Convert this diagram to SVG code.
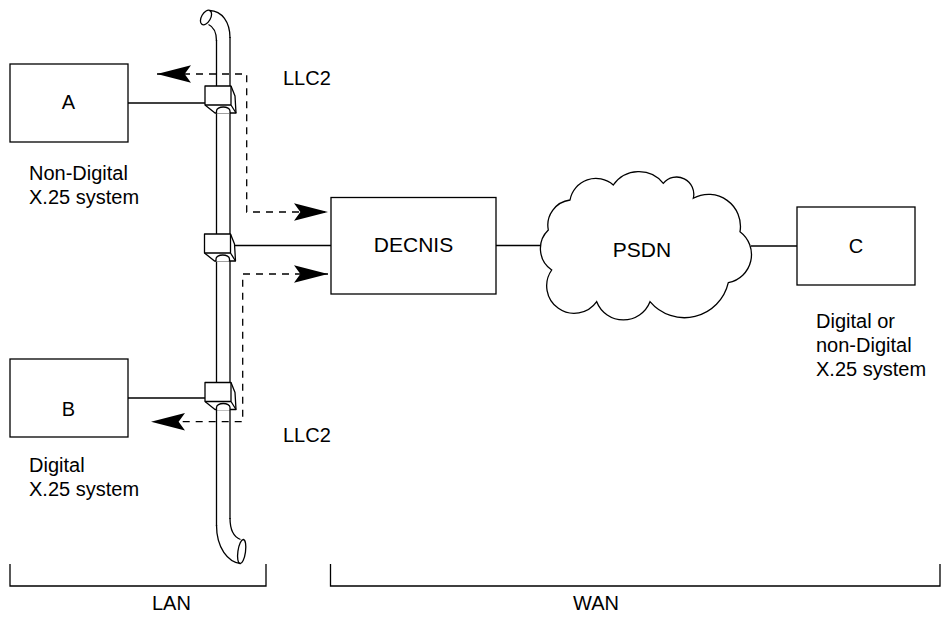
<svg xmlns="http://www.w3.org/2000/svg" width="946" height="621" viewBox="0 0 946 621">
<style>
  .ln{fill:none;stroke:#000;stroke-width:1.3}
  .box{fill:#fff;stroke:#000;stroke-width:1.3}
  .dash{fill:none;stroke:#000;stroke-width:1.3;stroke-dasharray:7 6}
  .t{font-family:"Liberation Sans",Arial,Helvetica,sans-serif;font-size:20px;fill:#000}
  .tb{font-family:"Liberation Sans",Arial,Helvetica,sans-serif;font-size:21px;fill:#000}
  .tap{fill:#fff;stroke:#000;stroke-width:1.3;stroke-linejoin:round}
</style>
<defs>
  <marker id="arr" markerUnits="userSpaceOnUse" markerWidth="34" markerHeight="20" viewBox="0 -9 32 18" refX="32" refY="0" orient="auto-start-reverse">
    <path d="M0,-8.3 L32,0 L0,8.3 L6,0 Z" fill="#000" stroke="none"/>
  </marker>
  <g id="tapshape">
    <path class="tap" d="M0,0 H26 L30,10 L31,27 H10 L0,19 Z"/>
    <path class="ln" d="M0,19 H26 V0 M26,19 L31,27"/>
    <path class="tap" d="M11.5,27.5 V25 A6.75,4 0 0 1 25,25 V27.5"/>
  </g>
</defs>

<g id="bus">
  <path class="ln" d="M216.5,40 V526 M230,37 V519"/>
  <path class="ln" d="M230,38 C230,22 222,11 209.5,10.5 M216.5,41 C216.5,32 214,27 208.5,24.5"/>
  <ellipse class="ln" cx="206" cy="17.5" rx="4.5" ry="8" transform="rotate(30 206 17.5)"/>
  <path class="ln" d="M216.5,525 C216.5,548 228,562 240.5,563.5 M230,518 C230,530 234,537 240.5,539.5"/>
  <ellipse class="ln" cx="241.7" cy="551.6" rx="3.8" ry="12.2" transform="rotate(8 241.7 551.6)"/>
</g>

<g id="connectors">
  <path class="ln" d="M128,103 H206"/>
  <path class="ln" d="M235,245.5 H331"/>
  <path class="ln" d="M128,398 H206"/>
  <path class="ln" d="M496,245.5 H541"/>
  <path class="ln" d="M751,246 H797"/>
  <path class="dash" d="M157,74 H246.7 V212 H328" marker-start="url(#arr)" marker-end="url(#arr)"/>
  <path class="dash" d="M328,274 H242.7 V421.7 H151" marker-start="url(#arr)" marker-end="url(#arr)"/>
</g>

<g id="tap-a"><use href="#tapshape" transform="translate(205,86)"/></g>
<g id="tap-mid"><use href="#tapshape" transform="translate(204.5,234)"/></g>
<g id="tap-b"><use href="#tapshape" transform="translate(205,382.5)"/></g>

<g id="node-a">
  <rect class="box" x="10" y="64" width="118" height="78"/>
  <text class="t" x="68.5" y="109" text-anchor="middle">A</text>
  <text class="t" x="29" y="180">Non-Digital</text>
  <text class="t" x="29" y="204">X.25 system</text>
</g>

<g id="node-b">
  <rect class="box" x="10" y="359" width="118" height="78"/>
  <text class="t" x="68.5" y="416" text-anchor="middle">B</text>
  <text class="t" x="29" y="472">Digital</text>
  <text class="t" x="29" y="496">X.25 system</text>
</g>

<g id="node-decnis">
  <rect class="box" x="331" y="197.5" width="165" height="96.5"/>
  <text class="tb" x="413.5" y="252" text-anchor="middle">DECNIS</text>
</g>

<g id="node-psdn">
  <path class="box" d="M548.3,230 A25.4,25.4 0 0 1 570,200 A26.3,26.3 0 0 1 613.3,185 A31.2,31.2 0 0 1 663.3,183.3 A17.2,17.2 0 0 1 693.3,198.3 A31.9,31.9 0 0 1 740,231.7 A28.6,28.6 0 0 1 728.3,282.7 A45,45 0 0 1 650,301.7 A28.6,28.6 0 0 1 596.7,301.7 A27.5,27.5 0 0 1 551.7,270 A25.9,25.9 0 0 1 548.3,230 Z"/>
  <text class="tb" x="642" y="257" text-anchor="middle">PSDN</text>
</g>

<g id="node-c">
  <rect class="box" x="797" y="207" width="118" height="78"/>
  <text class="t" x="856" y="253" text-anchor="middle">C</text>
  <text class="t" x="816" y="328">Digital or</text>
  <text class="t" x="816" y="352">non-Digital</text>
  <text class="t" x="816" y="376">X.25 system</text>
</g>

<g id="labels">
  <text class="t" x="283" y="85">LLC2</text>
  <text class="t" x="283" y="442">LLC2</text>
</g>

<g id="brackets">
  <path class="ln" d="M10,564 V586 H266 V564"/>
  <path class="ln" d="M330.5,564 V586 H940 V564"/>
  <text class="t" x="152" y="610">LAN</text>
  <text class="t" x="573" y="610">WAN</text>
</g>
</svg>
